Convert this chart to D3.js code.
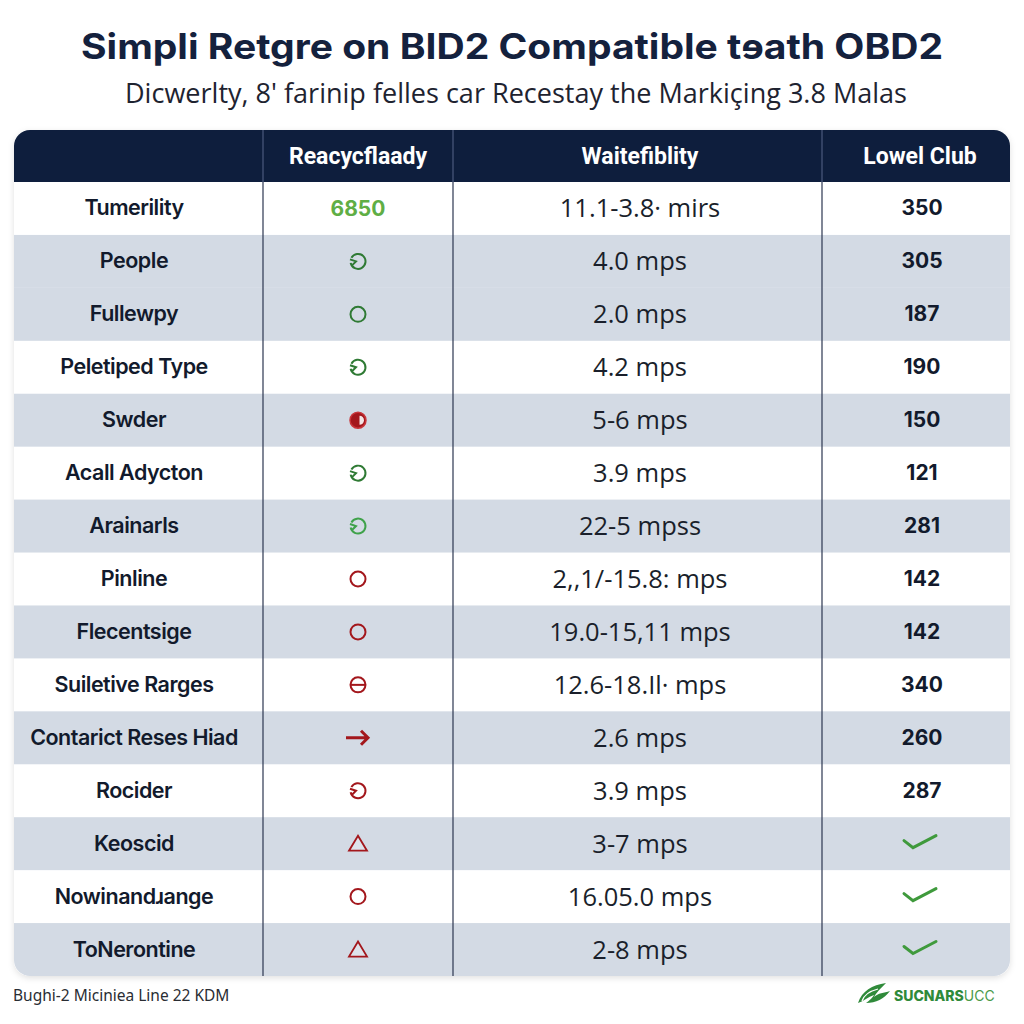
<!DOCTYPE html>
<html>
<head>
<meta charset="utf-8">
<script src="https://cdn.jsdelivr.net/npm/d3@7/dist/d3.min.js"></script>
<style>
  html, body { margin: 0; padding: 0; background: #ffffff; }
  svg { display: block; }
</style>
</head>
<body>
<svg id="chart" width="1024" height="1024"></svg>
<script>
// ---------- data ----------
const title = "Simpli Retgre on BID2 Compatible tɘath OBD2";
const subtitle = "Dicwerlty, 8' farinip felles car Recestay the Markiçing 3.8 Malas";
const headers = ["", "Reacycflaady", "Waitefiblity", "Lowel Club"];
const categories = ["Tumerility", "People", "Fullewpy", "Peletiped Type", "Swder", "Acall Adycton",
  "Arainarls", "Pinline", "Flecentsige", "Suiletive Rarges", "Contarict Reses Hiad", "Rocider",
  "Keoscid", "Nowinandɹange", "ToNerontine"];
const statusIcons = ["6850", "cycle-g", "ring-g", "cycle-g", "half-r", "cycle-g", "cycle-g", "ring-r",
  "ring-r", "theta-r", "arrow-r", "cycle-r", "tri-r", "ring-r", "tri-r"];
const speeds = ["11.1-3.8· mirs", "4.0 mps", "2.0 mps", "4.2 mps", "5-6 mps", "3.9 mps", "22-5 mpss",
  "2,,1/-15.8: mps", "19.0-15,11 mps", "12.6-18.Il· mps", "2.6 mps", "3.9 mps", "3-7 mps",
  "16.05.0 mps", "2-8 mps"];
const clubValues = ["350", "305", "187", "190", "150", "121", "281", "142", "142", "340", "260", "287",
  "check", "check", "check"];
const shadedRows = [1, 2, 4, 6, 8, 10, 12, 14];
const footerLeft = "Bughi-2 Miciniea Line 22 KDM";
const logoBold = "SUCNARS";
const logoLight = "UCC";

// ---------- layout ----------
const svg = d3.select("#chart");
const tableX0 = 14, tableX1 = 1010, headerY0 = 130, headerY1 = 182, tableY1 = 976;
const colEdges = [tableX0, 263, 453, 822, tableX1];
const colCenter = i => (colEdges[i] + colEdges[i + 1]) / 2;
const colText = [134, 358, 640, 920];
const navy = "#0e1e3d";
const textDark = "#121a2c";
const red = "#a3171c";

const y = d3.scaleBand().domain(d3.range(categories.length)).range([headerY1, tableY1]);

// title
svg.append("text").attr("x", 512).attr("y", 59).attr("text-anchor", "middle")
  .attr("font-family", "Inter, 'Open Sans', sans-serif").attr("font-weight", 700)
  .attr("font-size", 35).attr("fill", "#14213d")
  .attr("textLength", 862).attr("lengthAdjust", "spacingAndGlyphs").text(title);
svg.append("text").attr("x", 516).attr("y", 103).attr("text-anchor", "middle")
  .attr("font-family", "'Open Sans', 'Noto Sans', sans-serif").attr("font-weight", 400)
  .attr("font-size", 27).attr("fill", "#1e2330")
  .attr("textLength", 782).attr("lengthAdjust", "spacingAndGlyphs").text(subtitle);

// clip with rounded corners
const defs = svg.append("defs");
defs.append("clipPath").attr("id", "tbl").append("rect")
  .attr("x", tableX0).attr("y", headerY0).attr("width", tableX1 - tableX0)
  .attr("height", tableY1 - headerY0).attr("rx", 16).attr("ry", 16);
const f = defs.append("filter").attr("id", "shadow").attr("x", "-5%").attr("y", "-5%").attr("width", "110%").attr("height", "110%");
f.append("feDropShadow").attr("dx", 0).attr("dy", 2).attr("stdDeviation", 3).attr("flood-color", "#000").attr("flood-opacity", 0.12);

svg.append("rect").attr("x", tableX0).attr("y", headerY0).attr("width", tableX1 - tableX0)
  .attr("height", tableY1 - headerY0).attr("rx", 16).attr("fill", "#fff").attr("filter", "url(#shadow)");

const tbl = svg.append("g").attr("clip-path", "url(#tbl)");

tbl.append("rect").attr("x", tableX0).attr("y", headerY0).attr("width", tableX1 - tableX0)
  .attr("height", tableY1 - headerY0).attr("fill", "#ffffff");

// row shading
tbl.selectAll("rect.shade").data(shadedRows).join("rect").attr("class", "shade")
  .attr("x", tableX0).attr("width", tableX1 - tableX0)
  .attr("y", d => y(d)).attr("height", y.bandwidth()).attr("fill", "#d3dae4");

// header
tbl.append("rect").attr("x", tableX0).attr("y", headerY0).attr("width", tableX1 - tableX0)
  .attr("height", headerY1 - headerY0).attr("fill", navy);

// column dividers
tbl.selectAll("line.hdiv").data(colEdges.slice(1, 4)).join("line").attr("class", "hdiv")
  .attr("x1", d => d).attr("x2", d => d).attr("y1", headerY0).attr("y2", headerY1)
  .attr("stroke", "#56658a").attr("stroke-width", 1);
tbl.selectAll("line.div").data(colEdges.slice(1, 4)).join("line").attr("class", "div")
  .attr("x1", d => d).attr("x2", d => d).attr("y1", headerY1).attr("y2", tableY1)
  .attr("stroke", "#2c3650").attr("stroke-width", 1.2);

// header text
svg.selectAll("text.hdr").data(headers).join("text").attr("class", "hdr")
  .attr("x", (d, i) => colText[i]).attr("y", (headerY0 + headerY1) / 2 + 8)
  .attr("text-anchor", "middle").attr("font-family", "Roboto, Inter, sans-serif")
  .attr("font-weight", 700).attr("font-size", 23).attr("fill", "#ffffff").text(d => d);

// categories
svg.selectAll("text.cat").data(categories).join("text").attr("class", "cat")
  .attr("x", colText[0]).attr("y", (d, i) => y(i) + y.bandwidth() / 2 + 7)
  .attr("text-anchor", "middle").attr("font-family", "Inter, Roboto, sans-serif")
  .attr("font-weight", 600).attr("font-size", 21.5).attr("fill", textDark)
  .attr("letter-spacing", -0.5).text(d => d);

// speeds
svg.selectAll("text.spd").data(speeds).join("text").attr("class", "spd")
  .attr("x", colText[2]).attr("y", (d, i) => y(i) + y.bandwidth() / 2 + 9)
  .attr("text-anchor", "middle").attr("font-family", "'Open Sans', 'Noto Sans', sans-serif")
  .attr("font-weight", 400).attr("font-size", 25.5).attr("fill", "#1a1f2b").text(d => d);

// status icons
const icons = svg.append("g");
statusIcons.forEach((s, i) => {
  const cx = colText[1], cy = y(i) + y.bandwidth() / 2;
  const g = icons.append("g").attr("transform", `translate(${cx},${cy})`);
  const col = s.endsWith("-g") ? (i === 6 ? "#3fa24a" : "#2f7a34") : red;
  const kind = s.split("-")[0];
  if (!s.includes("-")) {
    g.append("text").attr("y", 8).attr("text-anchor", "middle")
      .attr("font-family", "Inter, Roboto, sans-serif").attr("font-weight", 700)
      .attr("font-size", 21).attr("fill", "#5fae45").text(s);
  } else if (kind === "ring") {
    g.append("circle").attr("r", 7.5).attr("fill", "none").attr("stroke", col).attr("stroke-width", 2);
  } else if (kind === "cycle") {
    const arc = d3.arc().innerRadius(6.5).outerRadius(8.5).startAngle(-Math.PI / 2 + 0.5).endAngle(1.5 * Math.PI - 0.2);
    g.append("path").attr("d", arc()).attr("fill", col);
    g.append("path").attr("d", "M-8,-2 L-2,0 L-6,4").attr("fill", "none").attr("stroke", col).attr("stroke-width", 2);
  } else if (kind === "half") {
    g.append("circle").attr("r", 8).attr("fill", col).attr("stroke", "#c8353a").attr("stroke-width", 1.5);
    g.append("path").attr("d", d3.arc().innerRadius(0).outerRadius(4.5).startAngle(0).endAngle(Math.PI)()).attr("fill", "#f3e4e4").attr("transform", "translate(1.5,0)");
  } else if (kind === "theta") {
    g.append("circle").attr("r", 7.5).attr("fill", "none").attr("stroke", col).attr("stroke-width", 2);
    g.append("line").attr("x1", -7.5).attr("x2", 7.5).attr("stroke", col).attr("stroke-width", 2);
  } else if (kind === "arrow") {
    g.append("path").attr("d", "M-12,0 L10,0 M3,-7 L10,0 L3,7").attr("fill", "none")
      .attr("stroke", col).attr("stroke-width", 3);
  } else if (kind === "tri") {
    g.append("path").attr("d", "M0,-8 L9,7 L-9,7 Z").attr("fill", "rgba(255,255,255,0.25)")
      .attr("stroke", col).attr("stroke-width", 1.8).attr("stroke-linejoin", "miter");
  }
});

// club values
clubValues.forEach((v, i) => {
  const cx = colText[3], cy = y(i) + y.bandwidth() / 2;
  if (v === "check") {
    svg.append("path").attr("d", `M${cx - 16},${cy - 3} L${cx - 7},${cy + 4} L${cx + 16},${cy - 8}`)
      .attr("fill", "none").attr("stroke", "#3f9a3c").attr("stroke-width", 3).attr("stroke-linecap", "round");
  } else {
    svg.append("text").attr("x", cx + 2).attr("y", cy + 7).attr("text-anchor", "middle")
      .attr("font-family", "Inter, Roboto, sans-serif").attr("font-weight", 700)
      .attr("font-size", 21).attr("fill", textDark).text(v);
  }
});

// footer
svg.append("text").attr("x", 13).attr("y", 1001).attr("font-family", "'Noto Sans', 'Open Sans', sans-serif")
  .attr("font-size", 15.5).attr("fill", "#2a2d33").text(footerLeft);
const logo = svg.append("g").attr("transform", "translate(858,995)");
logo.append("path").attr("d", "M0,8 C4,-4 14,-10 28,-12 C22,-6 18,-2 16,2 C20,-2 26,-2 32,-4 C26,4 18,8 8,8 C14,4 16,0 16,0 C10,2 6,6 0,8 Z")
  .attr("fill", "#2f8a3a");
logo.append("path").attr("d", "M4,6 C6,0 12,-4 20,-6").attr("fill", "none").attr("stroke", "#ffffff").attr("stroke-width", 1.2);
const lt = logo.append("text").attr("x", 36).attr("y", 6).attr("font-family", "Inter, Roboto, sans-serif")
  .attr("font-size", 14).attr("fill", "#2f8a3a");
lt.append("tspan").attr("font-weight", 800).text(logoBold);
lt.append("tspan").attr("font-weight", 400).attr("fill", "#4a9a4a").text(logoLight);
</script>
</body>
</html>
